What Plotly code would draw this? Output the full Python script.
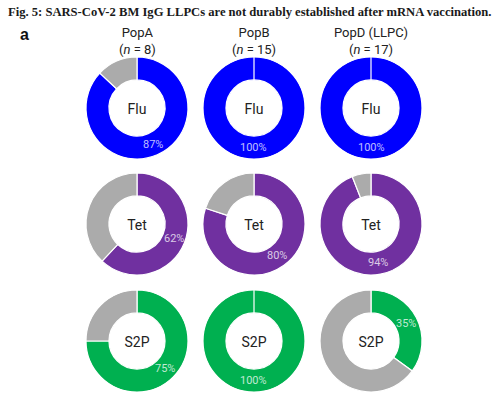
import math
import plotly.graph_objects as go

W, H = 493, 399

populations = ["PopA", "PopB", "PopD (LLPC)"]
n_counts = [8, 15, 17]
antigens = ["Flu", "Tet", "S2P"]
# percent positive per antigen (rows) x population (cols)
pct_values = {
    "Flu": [87, 100, 100],
    "Tet": [62, 80, 94],
    "S2P": [75, 100, 35],
}
antigen_colors = {"Flu": "#0000FF", "Tet": "#7030A0", "S2P": "#00B050"}
grey = "#ABABAB"

col_cx = [137, 254, 371]
row_cy = [108, 224, 341]
R = 51
HOLE = 0.55

fig = go.Figure()
annotations = []
for ri, ag in enumerate(antigens):
    for ci, pop in enumerate(populations):
        p = pct_values[ag][ci]
        cx, cy = col_cx[ci], row_cy[ri]
        fig.add_trace(go.Pie(
            values=[p, 100 - p],
            labels=["pos", "neg"],
            textinfo="none",
            marker=dict(colors=[antigen_colors[ag], grey], line=dict(color="white", width=1.2)),
            hole=HOLE,
            sort=False,
            direction="clockwise",
            rotation=0,
            showlegend=False,
            hoverinfo="skip",
            title=dict(text=ag, position="middle center",
                       font=dict(family="Roboto", size=14, color="#222222")),
            domain=dict(x=[(cx - R) / W, (cx + R) / W], y=[1 - (cy + R) / H, 1 - (cy - R) / H]),
        ))
        # percentage label at the middle of the coloured slice
        ang = math.radians(p / 100 * 360 / 2)
        rm = R * (1 + HOLE) / 2
        annotations.append(dict(
            text=f"{p}%", x=(cx + rm * math.sin(ang)) / W, y=1 - (cy - rm * math.cos(ang)) / H,
            xref="paper", yref="paper", xanchor="center", yanchor="middle", showarrow=False,
            font=dict(family="Roboto", size=11, color="rgba(255,255,255,0.75)"),
        ))

annotations += [
    dict(text="<b>Fig. 5: SARS-CoV-2 BM IgG LLPCs are not durably established after mRNA vaccination.</b>",
         x=6 / W, y=1 - 12 / H, xref="paper", yref="paper", xanchor="left", yanchor="middle",
         showarrow=False, font=dict(family="Liberation Serif", size=12.6, color="#1a1a1a")),
    dict(text="<b>a</b>", x=18 / W, y=1 - 34 / H, xref="paper", yref="paper", xanchor="left",
         yanchor="middle", showarrow=False, font=dict(family="Liberation Sans", size=16, color="#111111")),
]
for ci, pop in enumerate(populations):
    annotations.append(dict(
        text=f"{pop}<br>(<i>n</i> = {n_counts[ci]})",
        x=col_cx[ci] / W, y=1 - 41 / H, xref="paper", yref="paper",
        xanchor="center", yanchor="middle", showarrow=False,
        font=dict(family="Roboto", size=13, color="#222222"),
    ))

fig.update_layout(
    width=W, height=H,
    margin=dict(l=0, r=0, t=0, b=0),
    paper_bgcolor="white", plot_bgcolor="white",
    annotations=annotations,
)
fig.write_html("out.html", config={"displayModeBar": False},
               post_script="document.body.style.margin='0';")
